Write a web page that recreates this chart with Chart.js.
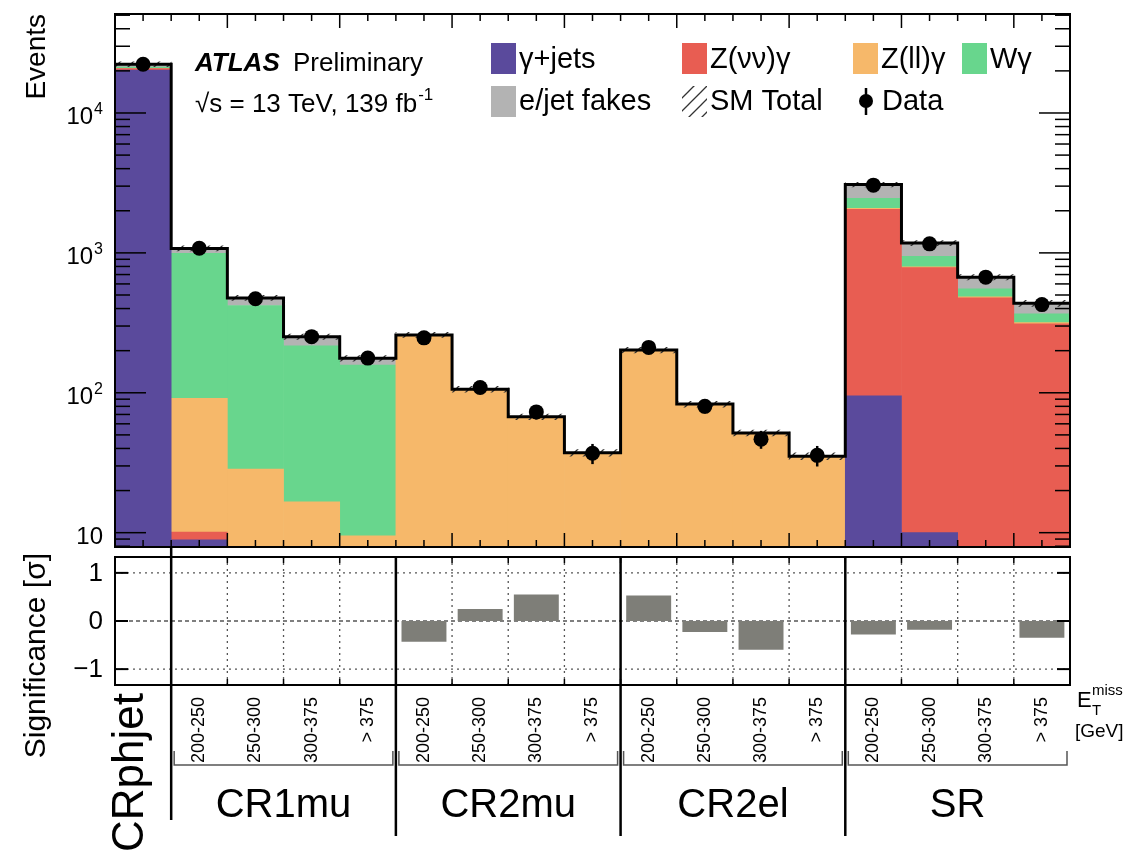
<!DOCTYPE html>
<html>
<head>
<meta charset="utf-8">
<script src="https://cdn.jsdelivr.net/npm/chart.js@4.4.1/dist/chart.umd.min.js"></script>
<style>
  html, body { margin: 0; padding: 0; background: #fff; }
  #wrap { position: relative; width: 1123px; height: 853px; overflow: hidden; }
  canvas { position: absolute; left: 0; }
  #top { top: 0; }
  #bottom { top: 548px; }
</style>
</head>
<body>
<div id="wrap">
  <canvas id="bottom" width="1123" height="305"></canvas>
  <canvas id="top" width="1123" height="560"></canvas>
</div>
<script>
// one CRphjet bin, then four MET bins for each region
const binLabels = ['CRphjet',
  '200-250', '250-300', '300-375', '> 375',
  '200-250', '250-300', '300-375', '> 375',
  '200-250', '250-300', '300-375', '> 375',
  '200-250', '250-300', '300-375', '> 375'];

// background yields (stacked bottom to top)
const gammaJets  = [20300, 8.9, 3, 2, 1.2, 0.5, 0.3, 0.2, 0.1, 0.5, 0.3, 0.2, 0.1, 95, 10, 4, 2];
const zNuNuGamma = [450, 1.2, 1, 0.6, 0.4, 0.8, 0.4, 0.3, 0.2, 0.6, 0.3, 0.2, 0.2, 1955, 774, 473, 309];
const zLLGamma   = [60, 81, 24.5, 14, 7.9, 254, 103.5, 65.5, 36.3, 198, 81.2, 50.4, 34.3, 30, 12, 8, 6];
const wGamma     = [500, 900, 392, 200, 148, 1.5, 0.8, 0.5, 0.3, 1.2, 0.6, 0.4, 0.3, 370, 148, 68, 49];
const fakes      = [1000, 85, 56, 35, 19, 2.5, 1, 0.8, 0.4, 1.7, 0.6, 0.4, 0.3, 630, 231, 118, 70];
const smUncertainty = [900, 45, 20, 11, 8, 11, 5, 3, 2, 9, 4, 2.5, 2, 120, 50, 30, 22];

const dataCounts = [22300, 1080, 470, 252, 177, 247, 109, 73, 37, 211, 80, 46.6, 35.7, 3050, 1160, 671, 427];
const significance = [0, 0, 0, 0, 0, -0.43, 0.25, 0.55, 0, 0.53, -0.23, -0.6, 0, -0.28, -0.18, 0, -0.35];

const regionNames = ['CR1mu', 'CR2mu', 'CR2el', 'SR'];
const regionFirstBin = [1, 5, 9, 13];
const regionLastBin = [4, 8, 12, 16];

const eventsTicks = [10, 100, 1000, 10000];
const eventsTickExp = ['', '2', '3', '4'];
const sigTicks = [-1, 0, 1];
const sigTickLabels = ['\u22121', '0', '1'];

const FONT = '"Liberation Sans", Arial, Helvetica, sans-serif';
const nBins = binLabels.length;

const components = [
  { label: '\u03b3+jets', values: gammaJets, color: '#5a4a9c' },
  { label: 'Z(\u03bd\u03bd)\u03b3', values: zNuNuGamma, color: '#e85d52' },
  { label: 'Z(ll)\u03b3', values: zLLGamma, color: '#f6b86a' },
  { label: 'W\u03b3', values: wGamma, color: '#68d68d' },
  { label: 'e/jet fakes', values: fakes, color: '#b3b3b3' }
];

function makeHatch() {
  const c = document.createElement('canvas');
  c.width = 13; c.height = 13;
  const g = c.getContext('2d');
  g.strokeStyle = '#333';
  g.lineWidth = 1.3;
  g.beginPath();
  g.moveTo(0, 13); g.lineTo(13, 0);
  g.moveTo(-4, 4); g.lineTo(4, -4);
  g.moveTo(9, 17); g.lineTo(17, 9);
  g.stroke();
  return g.createPattern(c, 'repeat');
}
const hatch = makeHatch();

// cumulative floating bars for the stack (log axis can't take 0 as a start)
const cum = binLabels.map(() => 0);
const stackSets = components.map(c => ({
  type: 'bar',
  label: c.label,
  data: c.values.map((v, i) => { const lo = cum[i]; cum[i] += v; return [lo || 1e-3, cum[i]]; }),
  backgroundColor: c.color,
  borderWidth: 0,
  grouped: false,
  barPercentage: 1,
  categoryPercentage: 1,
  order: 10
}));
const smTotal = cum.slice();

function line(ctx, x1, y1, x2, y2) {
  ctx.beginPath(); ctx.moveTo(x1, y1); ctx.lineTo(x2, y2); ctx.stroke();
}

const topDecor = {
  id: 'topDecor',
  afterDatasetsDraw(chart) {
    const { ctx } = chart;
    const y = chart.scales.y, xl = chart.scales.xl;
    ctx.save();
    ctx.strokeStyle = '#000';
    ctx.lineWidth = 2.5;
    dataCounts.forEach((d, i) => {
      const err = Math.sqrt(d);
      const x = xl.getPixelForValue(i + 0.5);
      line(ctx, x, y.getPixelForValue(d - err), x, y.getPixelForValue(d + err));
    });
    ctx.restore();
  },
  afterDraw(chart) {
    const { ctx, chartArea: a } = chart;
    const y = chart.scales.y, xl = chart.scales.xl;
    ctx.save();
    ctx.strokeStyle = '#000';
    ctx.lineWidth = 2;
    ctx.strokeRect(a.left, a.top, a.right - a.left, a.bottom - a.top);

    // log ticks, pointing inwards
    ctx.lineWidth = 1.5;
    for (let e = 0; e <= 4; e++) {
      for (let m = 1; m <= 9; m++) {
        const v = m * Math.pow(10, e);
        if (v < y.min || v > y.max) continue;
        const py = y.getPixelForValue(v);
        const len = m === 1 ? 31 : 15;
        line(ctx, a.left, py, a.left + len, py);
        line(ctx, a.right, py, a.right - len, py);
      }
    }
    for (let h = 1; h < nBins * 2; h++) {
      const k = h / 2;
      const px = xl.getPixelForValue(k);
      const len = k % 2 === 0 ? 14 : 7;
      line(ctx, px, a.top, px, a.top + len);
      line(ctx, px, a.bottom, px, a.bottom - len);
    }

    // y labels 10^n
    ctx.fillStyle = '#000';
    ctx.textBaseline = 'alphabetic';
    eventsTicks.forEach((v, i) => {
      const py = y.getPixelForValue(v);
      const exp = eventsTickExp[i];
      ctx.font = '16px ' + FONT;
      const ew = exp ? ctx.measureText(exp).width + 1 : 0;
      ctx.font = '24px ' + FONT;
      ctx.textAlign = 'right';
      ctx.fillText('10', 103 - ew, py + 11);
      if (exp) {
        ctx.font = '16px ' + FONT;
        ctx.textAlign = 'left';
        ctx.fillText(exp, 103 - ew + 1, py + 1);
      }
    });

    // ATLAS label
    ctx.textAlign = 'left';
    ctx.font = 'italic bold 26px ' + FONT;
    ctx.fillText('ATLAS', 195, 71);
    ctx.font = '26px ' + FONT;
    ctx.fillText('Preliminary', 293, 71);
    const lumi = '\u221as = 13 TeV, 139 fb';
    ctx.fillText(lumi, 195, 112);
    const lw = ctx.measureText(lumi).width;
    ctx.font = '17px ' + FONT;
    ctx.fillText('-1', 195 + lw + 1, 100);

    // legend
    const colX = [491, 682, 853, 962];
    const rowBox = [43, 86];
    const rowBase = [68, 110];
    ctx.font = '29px ' + FONT;
    components.forEach((c, i) => {
      const col = i < 4 ? i : 0;
      const row = i < 4 ? 0 : 1;
      ctx.fillStyle = c.color;
      ctx.fillRect(colX[col], rowBox[row], 25, 31);
      ctx.fillStyle = '#000';
      ctx.fillText(c.label, colX[col] + 28, rowBase[row]);
    });
    ctx.fillStyle = hatch;
    ctx.fillRect(colX[1], rowBox[1], 25, 31);
    ctx.fillStyle = '#000';
    ctx.fillText('SM Total', colX[1] + 28, rowBase[1]);
    ctx.lineWidth = 2.5;
    line(ctx, 866, 88, 866, 115);
    ctx.beginPath(); ctx.arc(866, 101, 7, 0, Math.PI * 2); ctx.fill();
    ctx.fillText('Data', 882, rowBase[1]);
    ctx.restore();
  }
};

new Chart(document.getElementById('top'), {
  type: 'bar',
  data: {
    labels: binLabels,
    datasets: [
      ...stackSets,
      {
        type: 'bar',
        label: 'SM Total',
        data: smTotal.map((t, i) => [t - smUncertainty[i], t + smUncertainty[i]]),
        backgroundColor: hatch,
        borderWidth: 0,
        grouped: false,
        barPercentage: 1,
        categoryPercentage: 1,
        order: 5
      },
      {
        type: 'line',
        label: 'SM outline',
        xAxisID: 'xl',
        data: smTotal.map((t, i) => ({ x: i, y: t })).concat([{ x: nBins, y: smTotal[nBins - 1] }]),
        stepped: 'before',
        borderColor: '#000',
        borderWidth: 3,
        pointRadius: 0,
        fill: false,
        order: 2
      },
      {
        type: 'scatter',
        label: 'Data',
        xAxisID: 'xl',
        data: dataCounts.map((d, i) => ({ x: i + 0.5, y: d })),
        backgroundColor: '#000',
        borderWidth: 0,
        pointRadius: 7.5,
        order: 1
      }
    ]
  },
  options: {
    responsive: false,
    animation: false,
    layout: { padding: { top: 14, right: 53, bottom: 13, left: 0 } },
    plugins: { legend: { display: false }, tooltip: { enabled: false } },
    scales: {
      x: { type: 'category', offset: true, display: false },
      xl: { type: 'linear', min: 0, max: nBins, offset: false, display: false },
      y: {
        type: 'logarithmic',
        min: 7.9,
        max: 51000,
        ticks: { display: false },
        grid: { display: false },
        border: { display: false },
        title: {
          display: true, text: 'Events', align: 'end', color: '#000',
          font: { family: FONT, size: 28 }, padding: { top: 20, bottom: 0 }
        },
        afterFit(s) { s.width = 115; }
      }
    }
  },
  plugins: [topDecor]
});

const bottomDecor = {
  id: 'bottomDecor',
  beforeDatasetsDraw(chart) {
    const { ctx, chartArea: a } = chart;
    const y = chart.scales.y, xl = chart.scales.xl;
    ctx.save();
    ctx.strokeStyle = '#555';
    ctx.lineWidth = 1.3;
    ctx.setLineDash([2, 4]);
    for (let k = 1; k < nBins; k++) {
      if (regionFirstBin.includes(k)) continue;
      const px = xl.getPixelForValue(k);
      line(ctx, px, a.top, px, a.bottom);
    }
    sigTicks.forEach(v => {
      ctx.setLineDash(v === 0 ? [4, 3] : [2, 4]);
      const py = y.getPixelForValue(v);
      line(ctx, a.left, py, a.right, py);
    });
    ctx.restore();
  },
  afterDraw(chart) {
    const { ctx, chartArea: a } = chart;
    const y = chart.scales.y, xl = chart.scales.xl;
    ctx.save();
    ctx.strokeStyle = '#000';
    ctx.fillStyle = '#000';
    ctx.lineWidth = 2;
    ctx.strokeRect(a.left, a.top, a.right - a.left, a.bottom - a.top);
    ctx.font = '26px ' + FONT;
    ctx.textAlign = 'right';
    ctx.textBaseline = 'middle';
    sigTicks.forEach((v, i) => {
      const py = y.getPixelForValue(v);
      line(ctx, a.left, py, a.left + 13, py);
      line(ctx, a.right, py, a.right - 13, py);
      ctx.fillText(sigTickLabels[i], 103, py + 1);
    });
    ctx.lineWidth = 1.5;
    for (let k = 1; k < nBins; k++) {
      const px = xl.getPixelForValue(k);
      line(ctx, px, a.top, px, a.top + 6);
      line(ctx, px, a.bottom, px, a.bottom - 6);
    }

    // region separators
    ctx.lineWidth = 2.5;
    regionFirstBin.forEach((k, i) => {
      const px = xl.getPixelForValue(k);
      line(ctx, px, i === 0 ? 0 : a.top, px, i === 0 ? 272 : 288);
    });

    // brackets and region names
    regionNames.forEach((name, i) => {
      const x1 = xl.getPixelForValue(regionFirstBin[i]) + 3;
      const x2 = xl.getPixelForValue(regionLastBin[i] + 1) - 3;
      ctx.strokeStyle = '#555';
      ctx.lineWidth = 1.5;
      ctx.beginPath();
      ctx.moveTo(x1, 203); ctx.lineTo(x1, 217); ctx.lineTo(x2, 217); ctx.lineTo(x2, 203);
      ctx.stroke();
      ctx.font = '40px ' + FONT;
      ctx.textAlign = 'center';
      ctx.textBaseline = 'alphabetic';
      ctx.fillText(name, (x1 + x2) / 2, 269);
    });

    // first bin label drawn large and rotated
    ctx.save();
    ctx.translate(131, 145);
    ctx.rotate(-Math.PI / 2);
    ctx.font = '44px ' + FONT;
    ctx.textAlign = 'right';
    ctx.textBaseline = 'middle';
    ctx.fillText(binLabels[0], 0, 0);
    ctx.restore();

    // y axis title
    ctx.save();
    ctx.translate(37, 5);
    ctx.rotate(-Math.PI / 2);
    ctx.font = '30px ' + FONT;
    ctx.textAlign = 'right';
    ctx.textBaseline = 'middle';
    ctx.fillText('Significance [\u03c3]', 0, 0);
    ctx.restore();

    // axis unit
    ctx.textAlign = 'left';
    ctx.textBaseline = 'alphabetic';
    ctx.font = '22px ' + FONT;
    ctx.fillText('E', 1077, 159);
    ctx.font = '15px ' + FONT;
    ctx.fillText('miss', 1092, 147);
    ctx.fillText('T', 1092, 167);
    ctx.font = '19px ' + FONT;
    ctx.fillText('[GeV]', 1075, 189);
    ctx.restore();
  }
};

new Chart(document.getElementById('bottom'), {
  type: 'bar',
  data: {
    labels: binLabels,
    datasets: [{
      label: 'Significance',
      data: significance.map(v => (v === 0 ? null : [0, v])),
      backgroundColor: '#7e7e78',
      borderWidth: 0,
      inflateAmount: 0,
      barPercentage: 0.8,
      categoryPercentage: 1
    }]
  },
  options: {
    responsive: false,
    animation: false,
    layout: { padding: { top: 9, right: 53, bottom: 0, left: 0 } },
    plugins: { legend: { display: false }, tooltip: { enabled: false } },
    scales: {
      x: {
        type: 'category',
        offset: true,
        grid: { display: false },
        border: { display: false },
        ticks: {
          autoSkip: false, minRotation: 90, maxRotation: 90, padding: 4, color: '#000',
          font: { family: FONT, size: 18 },
          callback: (v, i) => (i === 0 ? '' : binLabels[i])
        },
        afterFit(s) { s.height = 168; }
      },
      xl: { type: 'linear', min: 0, max: nBins, offset: false, display: false },
      y: {
        min: -1.33,
        max: 1.33,
        afterBuildTicks(s) { s.ticks = sigTicks.map(v => ({ value: v })); },
        grid: { display: false, drawTicks: false },
        border: { display: false },
        ticks: { display: false },
        afterFit(s) { s.width = 115; }
      }
    }
  },
  plugins: [bottomDecor]
});
</script>
</body>
</html>
